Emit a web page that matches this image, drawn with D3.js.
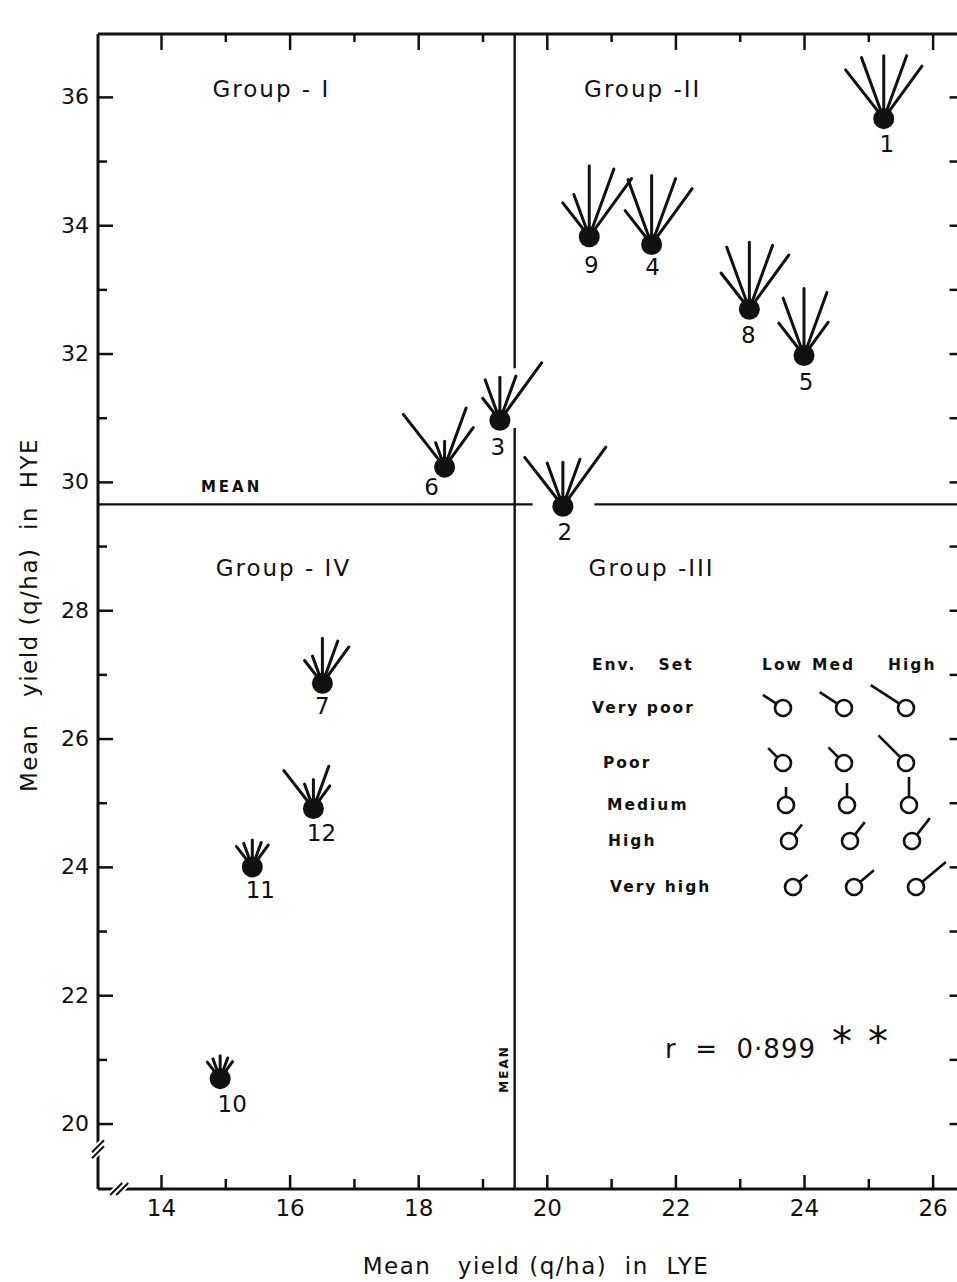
<!DOCTYPE html>
<html>
<head>
<meta charset="utf-8">
<script src="https://cdn.jsdelivr.net/npm/d3@7"></script>
<style>
  body { margin: 0; background: #fff; }
  svg text { font-family: 'DejaVu Sans', sans-serif; fill: #111; white-space: pre; }
</style>
</head>
<body>
<svg id="chart"></svg>
<script>
// Genotypes and their mean yields (q/ha)
var genotypes = ['1', '2', '3', '4', '5', '6', '7', '8', '9', '10', '11', '12'];
var lyeMean = [25.24, 20.25, 19.27, 21.63, 24.0, 18.41, 16.51, 23.15, 20.66, 14.92, 15.42, 16.37];
var hyeMean = [35.66, 29.62, 30.96, 33.70, 31.97, 30.23, 26.86, 32.69, 33.82, 20.70, 24.00, 24.91];

// Ray length per environment set (very poor, poor, medium, high, very high)
var rayValues = [
  [62, 65, 63, 67, 65],
  [62, 46, 44, 50, 73],
  [28, 43, 43, 47, 71],
  [43, 69, 69, 70, 69],
  [41, 61, 67, 67, 41],
  [67, 26, 26, 63, 49],
  [29, 29, 45, 45, 45],
  [46, 66, 67, 68, 67],
  [43, 45, 71, 72, 72],
  [21, 21, 23, 22, 21],
  [26, 25, 27, 26, 27],
  [48, 26, 29, 45, 28]
];

// Means of the two yield environments
var meanLYE = 19.5;
var meanHYE = 29.65;

// Legend categories
var envSets = ['Very poor', 'Poor', 'Medium', 'High', 'Very high'];
var levels = ['Low', 'Med', 'High'];
var legendRay = [
  [24, 29, 42],
  [21, 22, 39],
  [18, 22, 28],
  [21, 24, 29],
  [19, 26, 39]
];

// Tick values
var xMajor = [14, 16, 18, 20, 22, 24, 26];
var xMinor = [15, 17, 19, 21, 23, 25];
var yMajor = [20, 22, 24, 26, 28, 30, 32, 34, 36];
var yMinor = [21, 23, 25, 27, 29, 31, 33, 35];
var rValue = '0·899';

// Layout
var W = 957, H = 1282;
var margin = { top: 34, left: 98 };
var height = 1155;

var rayAngles = [-38, -20, 0, 20, 36];
var legendAngles = [-57, -45, 0, 38, 50];
var labelNudge = [[3, 25], [2, 26], [-2, 27], [1, 23], [2, 27], [-13, 20],
                  [0, 23], [-1, 26], [2, 28], [12, 25], [8, 23], [8, 25]];

var x = d3.scaleLinear().domain([13.02, 26.45]).range([0, 64.3 * 13.43]);
var y = d3.scaleLinear().domain([18.98, 36.98]).range([height, 0]);
var rayLen = d3.scaleLinear().domain([0, 80]).range([0, 80]);

var svg = d3.select('#chart')
    .attr('width', W)
    .attr('height', H);

var g = svg.append('g')
    .attr('transform', 'translate(' + margin.left + ',' + margin.top + ')');

// Axes with inward ticks
function styleAxis(sel) {
  sel.select('.domain').remove();
  sel.selectAll('line').attr('stroke', '#111').attr('stroke-width', 2.5);
}

g.append('g')
  .call(d3.axisLeft(y).tickValues(yMajor).tickSize(-15).tickPadding(9))
  .call(styleAxis)
  .selectAll('text')
    .style('font-size', '22px')
    .attr('font-family', null);

g.append('g')
  .call(d3.axisLeft(y).tickValues(yMinor).tickSize(-9).tickFormat(''))
  .call(styleAxis);

g.append('g')
  .attr('transform', 'translate(0,' + height + ')')
  .call(d3.axisBottom(x).tickValues(xMajor).tickSize(-14).tickPadding(11))
  .call(styleAxis)
  .selectAll('text')
    .style('font-size', '23px')
    .attr('font-family', null);

g.append('g')
  .attr('transform', 'translate(0,' + height + ')')
  .call(d3.axisBottom(x).tickValues(xMinor).tickSize(-10).tickFormat(''))
  .call(styleAxis);

g.append('g')
  .call(d3.axisTop(x).tickValues(xMajor).tickSize(-16).tickFormat(''))
  .call(styleAxis);

g.append('g')
  .call(d3.axisTop(x).tickValues(xMinor).tickSize(-8).tickFormat(''))
  .call(styleAxis);

g.append('g')
  .attr('transform', 'translate(' + x.range()[1] + ',0)')
  .call(d3.axisRight(y).tickValues(yMajor.concat(yMinor)).tickSize(-12).tickFormat(''))
  .call(styleAxis);

// Frame
var frame = g.append('g').attr('stroke', '#111').attr('stroke-width', 3).attr('fill', 'none');
frame.append('line').attr('x1', 0).attr('x2', x.range()[1]).attr('y1', 0).attr('y2', 0);
frame.append('line').attr('x1', 0).attr('x2', 0).attr('y1', 0).attr('y2', height);
frame.append('line').attr('x1', 0).attr('x2', x.range()[1]).attr('y1', height).attr('y2', height);

// Axis break marks
var brk = g.append('g').attr('stroke', '#111').attr('stroke-width', 2);
[-3, 3].forEach(function (o) {
  brk.append('line')
    .attr('x1', -6).attr('y1', y(19.6) + 6 + o)
    .attr('x2', 6).attr('y2', y(19.6) - 6 + o);
  brk.append('line')
    .attr('x1', x(13.35) - 6 + o).attr('y1', height + 6)
    .attr('x2', x(13.35) + 6 + o).attr('y2', height - 6);
});
brk.selectAll('line').clone(true).lower().attr('stroke', '#fff').attr('stroke-width', 6);

// Mean lines, broken around the glyphs of genotypes 2 and 3
var meanG = g.append('g').attr('stroke', '#111').attr('stroke-width', 2.4);
meanG.append('line')
  .attr('x1', x(meanLYE)).attr('x2', x(meanLYE))
  .attr('y1', 0).attr('y2', y(31.77));
meanG.append('line')
  .attr('x1', x(meanLYE)).attr('x2', x(meanLYE))
  .attr('y1', y(30.84)).attr('y2', height);
meanG.append('line')
  .attr('x1', 0).attr('x2', x(19.78))
  .attr('y1', y(meanHYE)).attr('y2', y(meanHYE));
meanG.append('line')
  .attr('x1', x(20.74)).attr('x2', x.range()[1])
  .attr('y1', y(meanHYE)).attr('y2', y(meanHYE));

g.append('text')
  .attr('x', x(14.62)).attr('y', y(meanHYE) - 12)
  .style('font-size', '15px').style('font-weight', 'bold').style('letter-spacing', '3px')
  .text('MEAN');

g.append('text')
  .attr('transform', 'translate(' + (x(meanLYE) - 11) + ',' + y(20.85) + ') rotate(-90)')
  .attr('text-anchor', 'middle')
  .attr('dy', '0.35em')
  .style('font-size', '12px').style('font-weight', 'bold').style('letter-spacing', '2px')
  .text('MEAN');

// Group labels
var groupText = [
  { t: 'Group - I', x: 14.8, y: 36.0 },
  { t: 'Group -II', x: 20.58, y: 36.0 },
  { t: 'Group - IV', x: 14.85, y: 28.53 },
  { t: 'Group -III', x: 20.65, y: 28.53 }
];
g.selectAll('.group')
  .data(groupText)
  .enter().append('text')
    .attr('class', 'group')
    .attr('x', function (d) { return x(d.x); })
    .attr('y', function (d) { return y(d.y); })
    .style('font-size', '23px')
    .style('letter-spacing', '2px')
    .text(function (d) { return d.t; });

// Star glyphs
var pts = genotypes.map(function (name, i) {
  return { name: name, lx: lyeMean[i], hy: hyeMean[i], rays: rayValues[i], nudge: labelNudge[i] };
});

var glyph = g.selectAll('.glyph')
  .data(pts)
  .enter().append('g')
    .attr('class', 'glyph')
    .attr('transform', function (d) { return 'translate(' + x(d.lx) + ',' + y(d.hy) + ')'; });

glyph.selectAll('line')
  .data(function (d) { return d.rays; })
  .enter().append('line')
    .attr('x1', 0).attr('y1', 0)
    .attr('x2', function (v, j) { return rayLen(v) * Math.sin(rayAngles[j] * Math.PI / 180); })
    .attr('y2', function (v, j) { return -rayLen(v) * Math.cos(rayAngles[j] * Math.PI / 180); })
    .attr('stroke', '#111')
    .attr('stroke-width', 3)
    .attr('stroke-linecap', 'round');

glyph.append('circle')
  .attr('r', 10.5)
  .attr('fill', '#111');

glyph.append('text')
  .attr('x', function (d) { return d.nudge[0]; })
  .attr('y', function (d) { return d.nudge[1] + 8; })
  .attr('text-anchor', 'middle')
  .style('font-size', '23px')
  .text(function (d) { return d.name; });

// Legend
var legend = svg.append('g').attr('class', 'legend');
function lt(sel) {
  return sel.style('font-size', '15.5px').style('font-weight', 'bold').style('letter-spacing', '2px');
}

legend.append('text').attr('x', 592).attr('y', 670).call(lt).text('Env.   Set');
var colX = [785, 846, 908];
var headX = [762, 812, 888];
legend.selectAll('.lvl')
  .data(levels)
  .enter().append('text')
    .attr('class', 'lvl')
    .attr('x', function (d, i) { return headX[i]; })
    .attr('y', 670)
    .call(lt)
    .text(function (d) { return d; });

var rowY = [708, 763, 805, 841, 887];
var rowLabelX = [592, 603, 607, 608, 610];
var rowShift = [-2, -2, 1, 4, 8];

legend.selectAll('.env')
  .data(envSets)
  .enter().append('text')
    .attr('class', 'env')
    .attr('x', function (d, i) { return rowLabelX[i]; })
    .attr('y', function (d, i) { return rowY[i] + 5; })
    .call(lt)
    .text(function (d) { return d; });

envSets.forEach(function (env, i) {
  levels.forEach(function (lv, j) {
    var cx = colX[j] + rowShift[i], cy = rowY[i];
    var a = legendAngles[i] * Math.PI / 180;
    var len = rayLen(legendRay[i][j]);
    legend.append('line')
      .attr('x1', cx + 7.5 * Math.sin(a)).attr('y1', cy - 7.5 * Math.cos(a))
      .attr('x2', cx + len * Math.sin(a)).attr('y2', cy - len * Math.cos(a))
      .attr('stroke', '#111').attr('stroke-width', 2.6);
    legend.append('circle')
      .attr('cx', cx).attr('cy', cy).attr('r', 8)
      .attr('fill', '#fff').attr('stroke', '#111').attr('stroke-width', 2.6);
  });
});

// Correlation note
svg.append('text')
  .attr('x', 665).attr('y', 1058)
  .style('font-size', '26px')
  .style('letter-spacing', '1px')
  .text('r  =  ' + rValue);
[842, 878].forEach(function (sx) {
  svg.append('text')
    .attr('x', sx).attr('y', 1056)
    .attr('text-anchor', 'middle')
    .style('font-size', '40px')
    .text('*');
});

// Axis titles
svg.append('text')
  .attr('x', 536).attr('y', 1274)
  .attr('text-anchor', 'middle')
  .style('font-size', '23px')
  .style('letter-spacing', '1.5px')
  .text('Mean   yield (q/ha)  in  LYE');

svg.append('text')
  .attr('transform', 'translate(37,615) rotate(-90)')
  .attr('text-anchor', 'middle')
  .style('font-size', '23px')
  .style('letter-spacing', '1.5px')
  .text('Mean   yield (q/ha)  in  HYE');
</script>
</body>
</html>
